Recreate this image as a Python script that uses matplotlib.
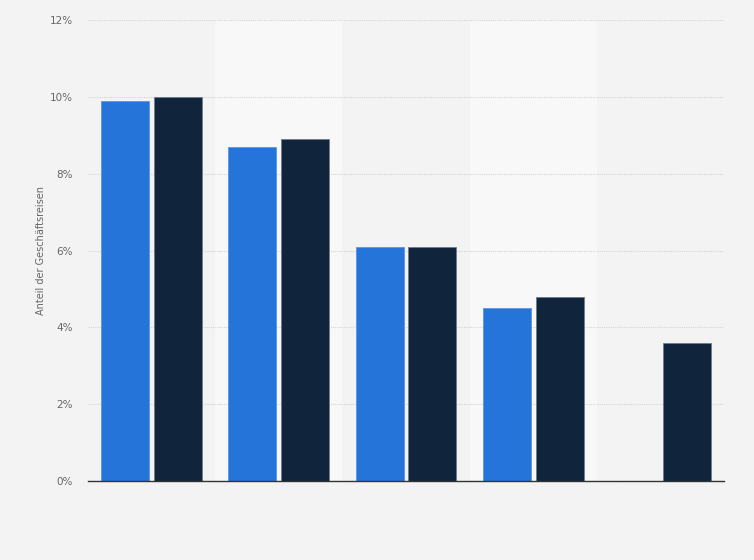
import numpy as np
import matplotlib.pyplot as plt

# Anteil der Geschäftsreisen, zwei Serien je Gruppe
groups = ['1', '2', '3', '4', '5']
series_a = [9.9, 8.7, 6.1, 4.5, np.nan]
series_b = [10.0, 8.9, 6.1, 4.8, 3.6]
yticks = [0, 2, 4, 6, 8, 10, 12]

bg = '#f3f3f3'
band = '#f8f8f8'
blue = '#2574d9'
dark = '#10253b'

fig = plt.figure(figsize=(7.54, 5.6), dpi=100, facecolor=bg)
ax = fig.add_axes([0.1167, 0.141, 0.8435, 0.823])
ax.set_facecolor(bg)

x = np.arange(len(groups))
w = 0.377
off = 0.208

# helle Bänder hinter jeder zweiten Gruppe
for i in x:
    if i % 2 == 1:
        ax.axvspan(i - 0.5, i + 0.5, color=band, zorder=0, lw=0)

ax.bar(x - off, series_a, width=w, color=blue, edgecolor='#5a95e3', lw=0.6, zorder=3)
ax.bar(x + off, series_b, width=w, color=dark, edgecolor='#6d7c8c', lw=0.6, zorder=3)

ax.set_xlim(-0.5, len(groups) - 0.5)
ax.set_ylim(0, 12)
ax.set_yticks(yticks)
ax.set_yticklabels([f'{v}%' for v in yticks], color='#666666', fontsize=7.5)
ax.set_xticks([])
ax.tick_params(axis='y', length=0, pad=11)
ax.yaxis.grid(True, color='#d4d4d4', linestyle=(0, (1, 1)), lw=0.8, zorder=1)
ax.set_axisbelow(True)

for s in ['top', 'right', 'left']:
    ax.spines[s].set_visible(False)
ax.spines['bottom'].set_color('#333333')
ax.spines['bottom'].set_linewidth(1.0)
ax.spines['bottom'].set_zorder(4)

ax.set_ylabel('Anteil der Geschäftsreisen', color='#666666', fontsize=7)
ax.yaxis.set_label_coords(-0.066, 0.5)

fig.savefig('out.png', dpi=100, facecolor=bg)
